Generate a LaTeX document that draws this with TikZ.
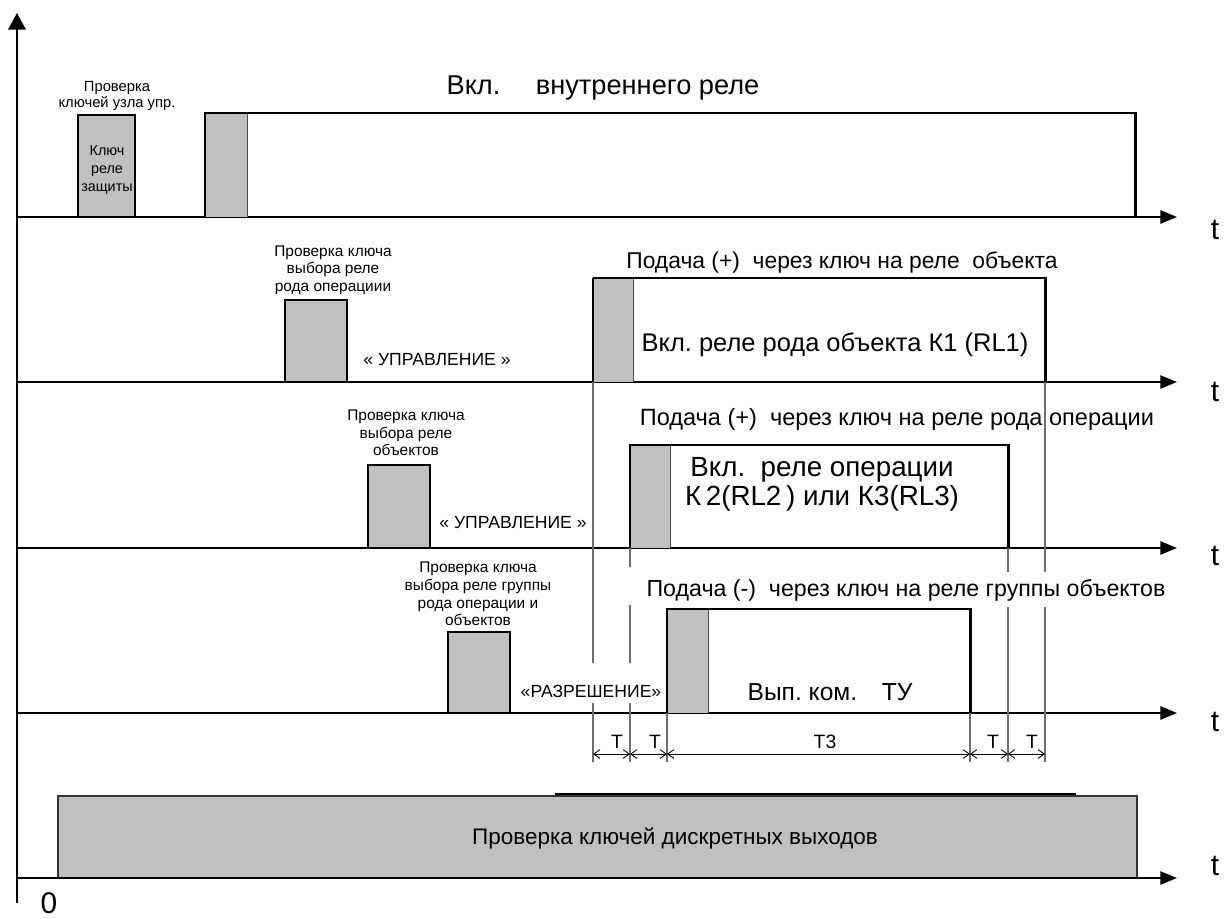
\documentclass[tikz,border=0pt]{standalone}
\usepackage{fontspec}
\setmainfont{Liberation Sans}
\usetikzlibrary{arrows.meta, positioning, calc}
\definecolor{pulsegray}{RGB}{192, 192, 192}
\definecolor{guidegray}{RGB}{110, 110, 110}

\begin{document}
\begin{tikzpicture}[
    x=0.02cm, y=-0.02cm,
    axisline/.style={line width=1.1pt, -{Triangle[length=9.5pt, width=7.5pt]}},
    pulse/.style={draw, line width=1.7pt, fill=pulsegray},
    riseline/.style={line width=1.7pt},
    split/.style={draw=black!70, line width=0.5pt},
    guide/.style={draw=guidegray, line width=0.6pt},
    dimline/.style={line width=0.5pt, {Straight Barb[length=3.5pt, width=5pt]}-{Straight Barb[length=3.5pt, width=5pt]}},
    note/.style={font=\fontsize{8.8}{10}\selectfont, align=center, inner sep=0pt},
    quote/.style={font=\fontsize{10}{12}\selectfont, inner sep=0pt},
    bigtext/.style={font=\fontsize{13.2}{16}\selectfont, align=center, inner sep=0pt},
    tlabel/.style={font=\fontsize{17}{20}\selectfont, inner sep=0pt},
    dimlabel/.style={font=\fontsize{11}{13}\selectfont, inner sep=0pt}
]
\useasboundingbox (0,0) rectangle (1225,919);

% Key check of discrete outputs (bottom bar)
\draw[draw=black!80, line width=0.6pt, fill=pulsegray] (58,796) rectangle (1137,878);
\draw[line width=0.6pt] (555,794) -- (1076,794);
\node[bigtext, font=\fontsize{12.8}{15}\selectfont] (outchk) at (675,838) {Проверка ключей дискретных выходов};

% Time axes
\foreach \y/\n in {217/1, 382/2, 548/3, 713/4, 878/5} {
    \coordinate (a\n) at (17,\y);
    \coordinate (e\n) at (1177,\y);
    \draw[axisline] (a\n) -- (e\n);
}
\foreach \y/\n in {230/1, 392/2, 556/3, 722/4, 866/5}
    \node[tlabel] (t\n) at (1215,\y) {t};

% Vertical axis
\coordinate (origin) at (17,903);
\coordinate (top) at (17,13);
\draw[line width=1.1pt, -{Triangle[length=9.5pt, width=10pt]}] (origin) -- (top);
\node[tlabel] (zero) at (49,903) {0};

% Row 1: internal relay
\draw[pulse] (78,115) rectangle (135,217);
\node[note, font=\fontsize{8.2}{10}\selectfont] (keyin) at (107,170) {Ключ\\реле\\защиты};
\node[note, font=\fontsize{8.4}{9.5}\selectfont] (keychk) at (117,96) {Проверка\\ключей узла упр.};
\fill[pulsegray] (205,113) rectangle (247,217);
\draw[split] (247,113) -- (247,217);
\draw[riseline] (205,217) -- (205,113) -- (1135,113) -- (1135,217);
\node[bigtext, font=\fontsize{15.5}{18}\selectfont] (inrelay) at (603,88) {Вкл.\hspace{1.3em}внутреннего реле};

% Row 2: object kind relay
\draw[pulse] (285,300) rectangle (347,382);
\node[note] (chk2) at (333,270) {Проверка ключа\\выбора реле\\рода операциии};
\node[quote] (ctl2) at (437,360) {« УПРАВЛЕНИЕ »};
\fill[pulsegray] (593,278) rectangle (633,382);
\draw[split] (633,278) -- (633,382);
\draw[line width=0.7pt] (593,382) -- (593,278);
\draw[riseline] (593,278) -- (1045,278) -- (1045,382);
\node[bigtext, font=\fontsize{13}{16}\selectfont] (feed2) at (842,262) {Подача (+)\ \ через ключ на реле\ \ объекта};
\node[bigtext, font=\fontsize{14.5}{17}\selectfont] (rl1) at (835,345) {Вкл.\ реле рода объекта К1 (RL1)};

% Row 3: operation relay
\draw[pulse] (368,465) rectangle (430,548);
\node[note] (chk3) at (406,433) {Проверка ключа\\выбора реле\\объектов};
\node[quote] (ctl3) at (513,523) {« УПРАВЛЕНИЕ »};
\fill[pulsegray] (630,445) rectangle (670,548);
\draw[split] (670,445) -- (670,548);
\draw[riseline] (630,548) -- (630,445) -- (1008,445) -- (1008,548);
\node[bigtext, font=\fontsize{13.4}{16}\selectfont] (feed3) at (897,419) {Подача (+)\ \ через ключ на реле рода операции};
\node[bigtext, font=\fontsize{15.8}{16.5}\selectfont] (rl23) at (822,484) {Вкл.\ \ реле операции\\К\,2(RL2\,) или К3(RL3)};

% Row 4: object group relay
\draw[pulse] (448,632) rectangle (510,713);
\node[note] (chk4) at (478,594) {Проверка ключа\\выбора реле группы\\рода операции и\\объектов};
\node[quote] (perm) at (591,691) {«РАЗРЕШЕНИЕ»};
\fill[pulsegray] (667,609) rectangle (708,713);
\draw[split] (708,609) -- (708,713);
\draw[riseline] (667,713) -- (667,609) -- (970,609) -- (970,713);
\node[bigtext] (feed4) at (906,590) {Подача (-)\ \ через ключ на реле группы объектов};
\node[bigtext, font=\fontsize{14}{16}\selectfont] (tu) at (830,692) {Вып.\ ком.\quad ТУ};

% Guide lines
\draw[guide] (593,382) -- (593,663) (593,703) -- (593,762);
\draw[guide] (630,548) -- (630,567) (630,605) -- (630,663) (630,703) -- (630,762);
\draw[guide] (667,713) -- (667,762);
\draw[guide] (970,713) -- (970,762);
\draw[guide] (1008,548) -- (1008,572) (1008,607) -- (1008,762);
\draw[guide] (1045,382) -- (1045,572) (1045,607) -- (1045,762);

% Time intervals
\foreach \x/\n in {593/1, 630/2, 667/3, 970/4, 1008/5, 1045/6}
    \coordinate (d\n) at (\x,754);
\foreach \a/\b/\lx/\txt in {1/2/617/T, 2/3/655/T, 3/4/825/T3, 4/5/993/T, 5/6/1032/T} {
    \draw[dimline] (d\a) -- (d\b);
    \node[dimlabel] (lab\a) at (\lx,742) {\txt};
}

\end{tikzpicture}
\end{document}
